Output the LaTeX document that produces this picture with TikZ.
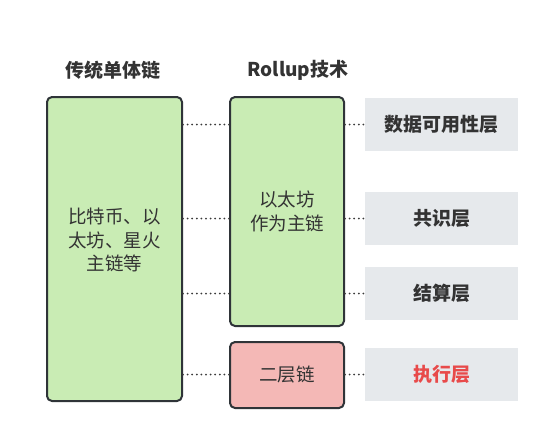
\documentclass[tikz,border=0pt]{standalone}
\usepackage{fontspec}
\setmainfont{Noto Sans CJK SC}
\usepackage{tikz}
\usetikzlibrary{calc}

\definecolor{boxgreen}{HTML}{C9ECB4}
\definecolor{boxred}{HTML}{F4B8B6}
\definecolor{boxgray}{HTML}{E6E9EC}
\definecolor{edgedark}{HTML}{2F3438}
\definecolor{textdark}{HTML}{333333}
\definecolor{textred}{HTML}{E84A4A}
\definecolor{dotgray}{HTML}{3A3A3A}

\tikzset{
  chainbox/.style={draw=edgedark, line width=2pt, rounded corners=5pt, inner sep=0pt,
    text=textdark, align=center, font=\fontsize{18.5}{23.5}\selectfont},
  layerbox/.style={fill=boxgray, inner sep=0pt, minimum width=153pt, minimum height=53pt,
    text=textdark, font=\fontsize{19}{22}\selectfont\bfseries},
  link/.style={dotgray, line width=2pt, line cap=round, dash pattern=on 0pt off 4.6pt}
}

\begin{document}
\begin{tikzpicture}[x=1pt, y=-1pt, line join=round, line cap=round]
\useasboundingbox (0,0) rectangle (555,445);
% titles
\node[text=textdark, font=\fontsize{19}{22}\selectfont\bfseries] (mono) at (113,70) {传统单体链};
\node[text=textdark, font=\fontsize{19}{22}\selectfont\bfseries] (rollup) at (298,70) {Rollup技术};
% chains
\node[chainbox, fill=boxgreen, minimum width=135pt, minimum height=304pt] (L1) at (114.5,249) {};
\node[text=textdark, align=center, font=\fontsize{18.5}{23.5}\selectfont] (L1txt) at (114.5,240) {比特币、以\\太坊、星火\\主链等};
\node[chainbox, fill=boxgreen, minimum width=114pt, minimum height=229pt] (eth) at (287,211.5) {以太坊\\作为主链};
\node[chainbox, fill=boxred, minimum width=114pt, minimum height=66pt] (L2) at (287,375) {二层链};
% layers
\node[layerbox] (da) at (441.5,124.5) {数据可用性层};
\node[layerbox] (cons) at (441.5,218.5) {共识层};
\node[layerbox] (settle) at (441.5,293.5) {结算层};
\node[layerbox, text=textred] (exec) at (441.5,374.5) {执行层};
% dotted links
\draw[link] (L1.east |- da.west) -- (eth.west |- da.west);
\draw[link] (L1.east |- cons.west) -- (eth.west |- cons.west);
\draw[link] (L1.east |- settle.west) -- (eth.west |- settle.west);
\draw[link] (L1.east |- exec.west) -- (L2.west |- exec.west);
\draw[link] (eth.east |- da.west) -- (da.west);
\draw[link] (eth.east |- cons.west) -- (cons.west);
\draw[link] (eth.east |- settle.west) -- (settle.west);
\draw[link] (L2.east |- exec.west) -- (exec.west);
\end{tikzpicture}
\end{document}
